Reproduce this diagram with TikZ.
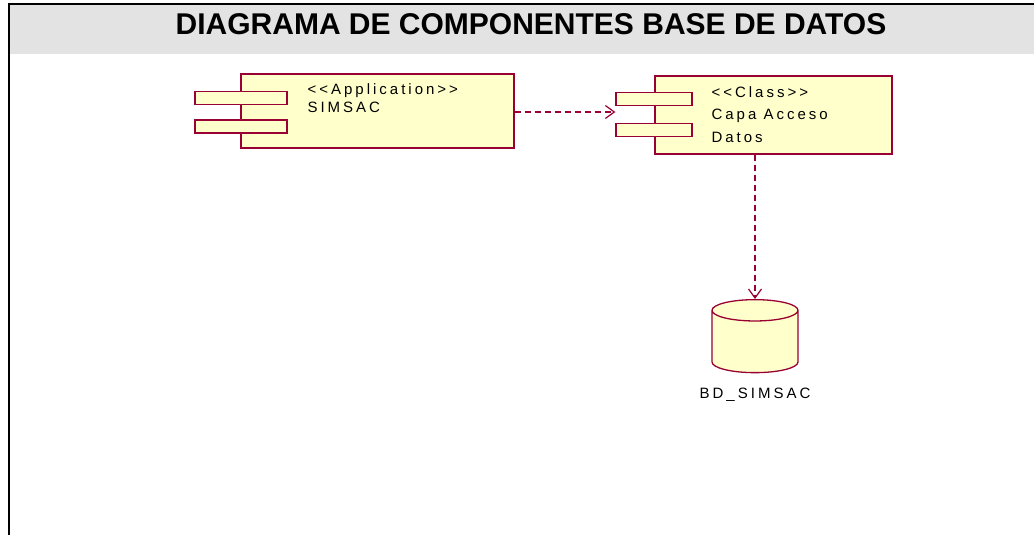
\documentclass[tikz,border=0pt]{standalone}
\usepackage{fontspec}
\setmainfont{Liberation Sans}
\newfontfamily\umlfont[LetterSpace=20]{Liberation Sans}
\usetikzlibrary{arrows.meta,positioning,shapes.geometric}
\definecolor{roseRed}{HTML}{990033}
\definecolor{roseYellow}{HTML}{FFFFCC}
\definecolor{bandGray}{HTML}{E3E3E3}

\begin{document}
\begin{tikzpicture}[x=1pt,y=-1pt,
  comp/.style={draw=roseRed,fill=roseYellow,line width=1.3pt,inner sep=0pt},
  compbar/.style={draw=roseRed,fill=roseYellow,line width=1.3pt,inner sep=0pt,
                  minimum width=92pt,minimum height=13pt},
  stereo/.style={font=\fontsize{15}{18}\umlfont,align=left,inner sep=0pt,anchor=north west},
  dep/.style={draw=roseRed,line width=1.2pt,dash pattern=on 6pt off 4pt,
              -{Straight Barb[length=9pt,width=13pt]}},
  store/.style={cylinder,shape border rotate=90,aspect=3.2,draw=roseRed,
                fill=roseYellow,line width=1.3pt,minimum width=86pt,minimum height=73pt}]
  \useasboundingbox (0,0) rectangle (1034,535);
  % header band and frame
  \fill[bandGray] (10,5) rectangle (1034,54);
  \draw[line width=2pt] (9,535) -- (9,4) -- (1034,4);
  \node[font=\fontsize{30}{32}\selectfont\bfseries] (title) at (531,24)
    {DIAGRAMA DE COMPONENTES BASE DE DATOS};

  % application component
  \node[comp,minimum width=273pt,minimum height=74pt] (simsac) at (377.5,111) {};
  \node[compbar] (simsac bar1) at (241,98) {};
  \node[compbar] (simsac bar2) at (241,126.5) {};
  \node[stereo] (simsac text) at ([shift={(67,10)}]simsac.north west)
    {<<Application>>\\SIMSAC};

  % data access component
  \node[comp,minimum width=237pt,minimum height=78pt] (capa) at (773.5,115) {};
  \node[compbar,minimum width=76pt] (capa bar1) at (654,99) {};
  \node[compbar,minimum width=76pt] (capa bar2) at (654,130) {};
  \node[stereo,font=\fontsize{15}{22.5}\umlfont] (capa text) at ([shift={(57,11)}]capa.north west)
    {<<Class>>\\Capa Acceso\\Datos};

  % database
  \node[store,anchor=north] (db) at (755,299) {};
  \node[stereo,anchor=north,below=15pt of db] (db text) {BD\_SIMSAC};

  % dependencies
  \draw[dep] (simsac.east |- 0,112) -- (capa bar1.west |- 0,112);
  \draw[dep] (capa.south -| db.north) -- (db.north);
\end{tikzpicture}
\end{document}
